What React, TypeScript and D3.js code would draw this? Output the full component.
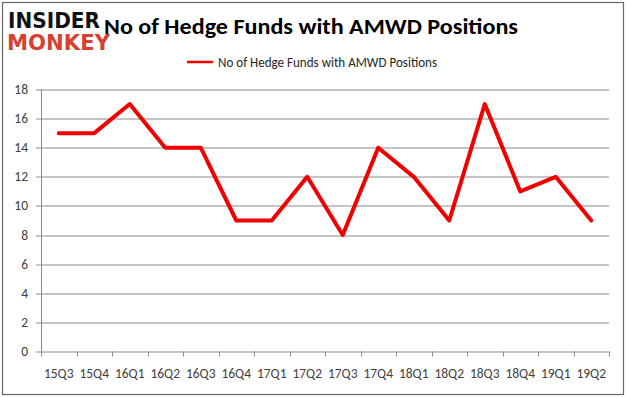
import { useEffect, useRef } from 'react';
import * as d3 from 'd3';

const quarters = ['15Q3', '15Q4', '16Q1', '16Q2', '16Q3', '16Q4', '17Q1', '17Q2', '17Q3', '17Q4', '18Q1', '18Q2', '18Q3', '18Q4', '19Q1', '19Q2'];
const fundCounts = [15, 15, 17, 14, 14, 9, 9, 12, 8, 14, 12, 9, 17, 11, 12, 9];
const yTicks = [0, 2, 4, 6, 8, 10, 12, 14, 16, 18];
const seriesName = 'No of Hedge Funds with AMWD Positions';

const W = 626;
const H = 397;
const FONT = 'Calibri, Carlito, Lato, "Open Sans", sans-serif';

export default function App() {
  const svgRef = useRef<SVGSVGElement>(null);

  useEffect(() => {
    document.body.style.margin = '0';
    if (!svgRef.current) return;
    const svg = d3.select(svgRef.current);
    svg.selectAll('*').remove();

    const margin = { top: 89.5, right: 17, bottom: 45.5, left: 41 };
    const innerW = W - margin.left - margin.right;
    const innerH = H - margin.top - margin.bottom;

    svg.append('rect')
      .attr('x', 0).attr('y', 0).attr('width', W).attr('height', H)
      .attr('fill', '#fff');
    // outer chart border
    svg.append('rect')
      .attr('x', 2.5).attr('y', 2.5).attr('width', 621).attr('height', 392)
      .attr('fill', 'none').attr('stroke', '#666').attr('stroke-width', 1.2);

    const x = d3.scaleBand().domain(quarters).range([0, innerW]);
    const y = d3.scaleLinear().domain([0, 18]).range([innerH, 0]);

    const g = svg.append('g').attr('transform', `translate(${margin.left},${margin.top})`);

    // gridlines
    g.selectAll('line.grid')
      .data(yTicks)
      .join('line')
      .attr('class', 'grid')
      .attr('x1', 0).attr('x2', innerW)
      .attr('y1', d => Math.round(y(d)) + 0.5).attr('y2', d => Math.round(y(d)) + 0.5)
      .attr('stroke', '#8a8a8a').attr('stroke-width', 1);

    // y axis line + ticks
    g.append('line')
      .attr('x1', 0.5).attr('x2', 0.5).attr('y1', 0).attr('y2', innerH)
      .attr('stroke', '#8a8a8a');
    g.selectAll('line.ytick')
      .data(yTicks)
      .join('line')
      .attr('class', 'ytick')
      .attr('x1', -5).attr('x2', 0)
      .attr('y1', d => Math.round(y(d)) + 0.5).attr('y2', d => Math.round(y(d)) + 0.5)
      .attr('stroke', '#8a8a8a');
    g.selectAll('text.ylab')
      .data(yTicks)
      .join('text')
      .attr('class', 'ylab')
      .attr('x', -13).attr('y', d => y(d) + 4.5)
      .attr('text-anchor', 'end')
      .attr('font-family', FONT).attr('font-size', 13.5).attr('fill', '#404040')
      .text(d => d);

    // x ticks
    const xTickPos = quarters.map(q => x(q) as number).concat([innerW]);
    g.selectAll('line.xtick')
      .data(xTickPos)
      .join('line')
      .attr('class', 'xtick')
      .attr('x1', d => Math.round(d) + 0.5).attr('x2', d => Math.round(d) + 0.5)
      .attr('y1', innerH).attr('y2', innerH + 5)
      .attr('stroke', '#8a8a8a');
    g.selectAll('text.xlab')
      .data(quarters)
      .join('text')
      .attr('class', 'xlab')
      .attr('x', d => (x(d) as number) + x.bandwidth() / 2)
      .attr('y', innerH + 26)
      .attr('text-anchor', 'middle')
      .attr('font-family', FONT).attr('font-size', 13.5).attr('fill', '#404040')
      .text(d => d);

    // series line
    const line = d3.line<number>()
      .x((_, i) => (x(quarters[i]) as number) + x.bandwidth() / 2)
      .y(d => y(d));
    g.append('path')
      .datum(fundCounts)
      .attr('d', line)
      .attr('fill', 'none')
      .attr('stroke', '#f00000')
      .attr('stroke-width', 4)
      .attr('stroke-linejoin', 'round')
      .attr('stroke-linecap', 'round');

    // legend
    svg.append('line')
      .attr('x1', 187).attr('x2', 213).attr('y1', 62).attr('y2', 62)
      .attr('stroke', '#f00000').attr('stroke-width', 2.5);
    svg.append('text')
      .attr('x', 218).attr('y', 66.5)
      .attr('font-family', FONT).attr('font-size', 13.5).attr('fill', '#262626')
      .attr('textLength', 219).attr('lengthAdjust', 'spacingAndGlyphs')
      .text(seriesName);

    // title (partly under the logo, as in the source image)
    svg.append('text')
      .attr('x', 104).attr('y', 34)
      .attr('font-family', FONT).attr('font-size', 23).attr('font-weight', 'bold').attr('fill', '#000')
      .attr('textLength', 414).attr('lengthAdjust', 'spacingAndGlyphs')
      .text(seriesName);

    // logo
    svg.append('text')
      .attr('x', 8).attr('y', 28)
      .attr('font-family', '"DejaVu Sans", sans-serif').attr('font-size', 21).attr('font-weight', 900)
      .attr('textLength', 92).attr('lengthAdjust', 'spacingAndGlyphs')
      .attr('fill', '#111')
      .text('INSIDER');
    svg.append('text')
      .attr('x', 7).attr('y', 50)
      .attr('font-family', '"DejaVu Sans", sans-serif').attr('font-size', 22).attr('font-weight', 900)
      .attr('textLength', 103).attr('lengthAdjust', 'spacingAndGlyphs')
      .attr('fill', '#d7412f')
      .text('MONKEY');
  }, []);

  return <svg ref={svgRef} width={W} height={H} style={{ display: 'block' }} />;
}
